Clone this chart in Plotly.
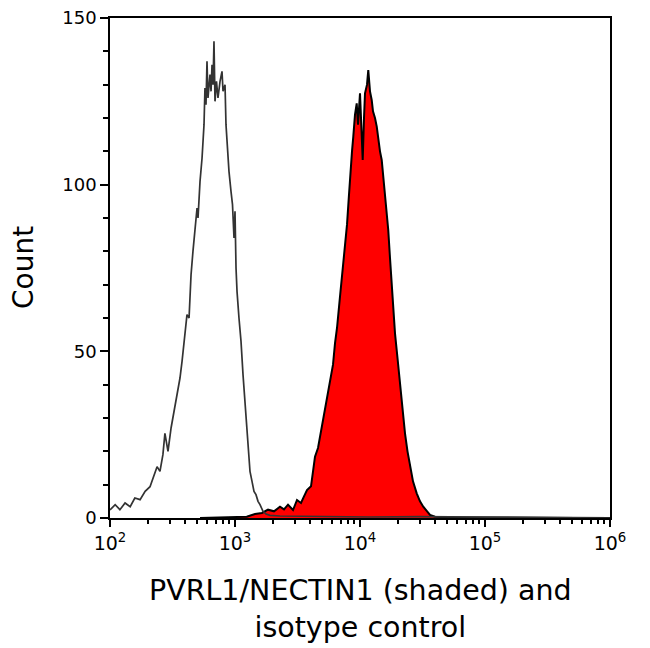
import plotly.graph_objects as go

# Isotype control (open histogram)
iso_x = [100, 110, 120, 132, 145, 158, 174, 191, 209, 221, 238, 251, 265, 275, 291, 308, 325, 344, 363, 377,
         398, 413, 429, 445, 461, 479, 497, 506, 525, 545, 565, 575, 586, 597, 608, 631, 643, 655, 667, 679,
         692, 711, 731, 759, 787, 802, 832, 847, 863, 895, 929, 955, 982, 1000, 1019, 1038, 1076, 1117, 1159,
         1202, 1247, 1294, 1318, 1368, 1419, 1472, 1528, 1585, 1675, 1770, 1905, 2291, 3311, 5754, 12023,
         30200, 75860, 190546, 831764, 1000000]
iso_y = [2.4, 4, 2.5, 4.5, 3.4, 6, 5.5, 8, 9.4, 12, 15.4, 14, 19, 25.4, 20, 27, 32, 36.4, 42, 47,
         55, 61, 60, 73, 80, 87, 93, 90, 101, 108, 118, 129, 124, 137, 126, 133, 128, 136, 130, 143,
         125, 131, 126, 131, 134, 128, 130, 118, 112, 104, 98, 94, 84, 92, 75, 68, 60, 53, 43,
         35, 25, 17, 14, 11, 8, 7, 5, 4, 2, 1.2, 0.8, 0.6, 0.5, 0.4, 0.3,
         0.4, 0.3, 0.2, 0.2, 0]

# PVRL1/NECTIN1 stained (shaded histogram)
pos_x = [525, 912, 1096, 1241, 1445, 1644, 1837, 2051, 2291, 2466, 2655, 2911, 3133, 3373, 3565, 3767, 4055,
         4365, 4613, 4875, 5084, 5346, 5546, 5754, 6081, 6310, 6546, 6918, 7178, 7586, 7870, 8166, 8318,
         8630, 8837, 9120, 9412, 9638, 10000, 10280, 10511, 10765, 10965, 11376, 11648, 12023, 12405,
         12706, 13183, 13614, 14060, 14454, 14918, 15417, 15849, 16444, 16831, 17378, 17927, 18535, 19055,
         19953, 20893, 21878, 22909, 23988, 25119, 26546, 28424, 30200, 32083, 34356, 36308, 39811, 47863,
         1000000]
pos_y = [0, 0.3, 0.5, 0.4, 1.2, 1.5, 2.5, 2, 3.4, 2.6, 4, 2.4, 5.4, 4.5, 6.5, 8.4, 9.5,
         18.4, 21, 26, 30.4, 34, 37, 40.4, 46, 52.4, 57, 66.4, 72, 82.4, 88, 97, 102.4,
         110, 114.4, 121, 124.4, 118, 127.4, 118, 107.4, 120, 127.4, 130, 134.4, 128, 125.4,
         122, 120, 117.4, 113, 110, 107.4, 102, 98.4, 92, 86.4, 78, 70.4, 62, 55.4,
         48, 40.4, 32, 25.4, 20, 15.4, 11, 7.4, 5, 3.4, 2, 0.9, 0.4, 0.2,
         0]

x_tickvals = [1e2, 1e3, 1e4, 1e5, 1e6]
x_ticktext = ["10<sup>2</sup>", "10<sup>3</sup>", "10<sup>4</sup>", "10<sup>5</sup>", "10<sup>6</sup>"]
y_tickvals = [0, 50, 100, 150]
x_title = "PVRL1/NECTIN1 (shaded) and<br>isotype control"
y_title = "Count"

FONT = "DejaVu Sans"

fig = go.Figure()
fig.add_trace(go.Scatter(x=pos_x, y=pos_y, mode="lines", fill="tozeroy",
                         fillcolor="#ff0000", line=dict(color="black", width=2),
                         showlegend=False))
fig.add_trace(go.Scatter(x=iso_x, y=iso_y, mode="lines",
                         line=dict(color="#333333", width=1.7), showlegend=False))

# page body has an 8px default margin, so the figure is sized/offset to compensate
fig.update_layout(
    width=642, height=640,
    margin=dict(l=102, r=40, t=10, b=130),
    paper_bgcolor="white", plot_bgcolor="white",
    font=dict(family=FONT, color="black"),
)
fig.update_xaxes(
    type="log", range=[2, 6], automargin=False, ticklabeloverflow="allow",
    tickvals=x_tickvals, ticktext=x_ticktext,
    ticks="outside", ticklen=7, tickwidth=1.5, tickcolor="black",
    minor=dict(ticks="outside", ticklen=4, tickwidth=1.5, tickcolor="black",
               tickvals=[m * 10 ** e for e in range(2, 6) for m in range(2, 10)]),
    showline=True, linecolor="black", linewidth=1.5, mirror=True,
    showgrid=False, zeroline=False,
    tickfont=dict(size=19),
)
fig.update_yaxes(
    range=[0, 150], tickvals=y_tickvals, automargin=False, ticklabeloverflow="allow",
    ticks="outside", ticklen=8, tickwidth=1.5, tickcolor="black",
    minor=dict(ticks="outside", ticklen=5, tickwidth=1.5, tickcolor="black", dtick=10),
    showline=True, linecolor="black", linewidth=1.5, mirror=True,
    showgrid=False, zeroline=False,
    tickfont=dict(size=18),
)
fig.add_annotation(text=x_title, xref="paper", yref="paper", x=0.5, y=0,
                   yshift=-54, yanchor="top", showarrow=False,
                   font=dict(size=28.5), align="center")
fig.add_annotation(text=y_title, xref="paper", yref="paper", x=0, y=0.5,
                   xshift=-87, xanchor="center", textangle=-90, showarrow=False,
                   font=dict(size=28))

fig.write_html("out.html")
